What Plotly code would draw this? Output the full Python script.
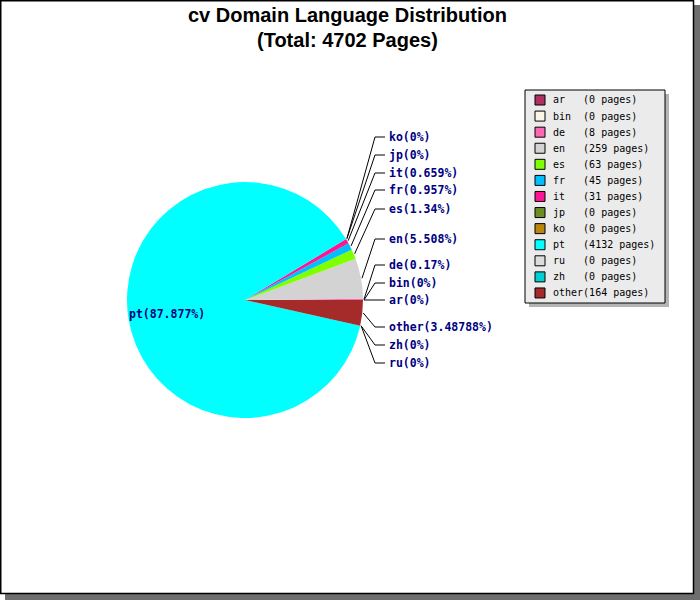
import math
import plotly.graph_objects as go

# ---------------- data ----------------
labels = ["ar", "bin", "de", "en", "es", "fr", "it", "jp", "ko", "pt", "ru", "zh", "other"]
pages = [0, 0, 8, 259, 63, 45, 31, 0, 0, 4132, 0, 0, 164]
pct_text = ["0", "0", "0.17", "5.508", "1.34", "0.957", "0.659", "0", "0",
            "87.877", "0", "0", "3.48788"]
colors = ["#B03060", "#FDF5E6", "#FF69B4", "#D3D3D3", "#7FFF00", "#00BFFF", "#FF1493",
          "#6B8E23", "#B8860B", "#00FFFF", "#DCDCDC", "#00CED1", "#A52A2A"]
domain_name = "cv"

# ---------------- layout (pixels) ----------------
W, H = 700, 600
cx, cy, R = 245, 300, 118
label_x = 387
elbow_x = 375
tick_end_x = 385
# vertical label slots (pt label is placed inside the pie)
label_y = [300, 283, 265, 239, 209, 190, 173, 155, 137, None, 363, 345, 327]
inside_label = (127, 314)


def px(x):
    return x / W


def py(y):
    return 1 - y / H


total = sum(pages)

fig = go.Figure()
fig.add_trace(go.Pie(
    labels=labels, values=pages, sort=False, direction="counterclockwise",
    rotation=90, textinfo="none", hoverinfo="label+value+percent",
    marker=dict(colors=colors, line=dict(width=0)),
    domain=dict(x=[px(cx - R), px(cx + R)], y=[py(cy + R), py(cy - R)]),
    showlegend=False,
))

shapes = []
annotations = []

# outer frame with shadow
shapes.append(dict(type="rect", xref="paper", yref="paper", x0=px(5), x1=px(700),
                   y0=py(600), y1=py(5), fillcolor="#6E6E6E", line=dict(width=0), layer="below"))
shapes.append(dict(type="rect", xref="paper", yref="paper", x0=px(0.75), x1=px(693.5),
                   y0=py(593.5), y1=py(0.75), fillcolor="white",
                   line=dict(color="black", width=1.5), layer="below"))

# title
title_font = dict(family="Liberation Sans, Arial", size=20, color="black")
annotations.append(dict(text=f"<b>{domain_name} Domain Language Distribution</b>", x=px(347), y=py(15),
                        xref="paper", yref="paper", showarrow=False, xanchor="center", yanchor="middle",
                        font=title_font))
annotations.append(dict(text=f"<b>(Total: {total} Pages)</b>", x=px(347), y=py(40),
                        xref="paper", yref="paper", showarrow=False, xanchor="center", yanchor="middle",
                        font=title_font))

# slice labels with guide lines
label_font = dict(family="DejaVu Sans Mono", size=11.5, color="#000080")
cum = 0.0
for i, (lab, v) in enumerate(zip(labels, pages)):
    frac = v / total
    mid = (cum + frac / 2) * 2 * math.pi
    cum += frac
    txt = f"<b>{lab}({pct_text[i]}%)</b>"
    if label_y[i] is None:
        annotations.append(dict(text=txt, x=px(inside_label[0]), y=py(inside_label[1]),
                                xref="paper", yref="paper", showarrow=False, xanchor="left",
                                yanchor="middle", font=label_font))
        continue
    sx = cx + (R + 1) * math.cos(mid)
    sy = cy - (R + 1) * math.sin(mid)
    ly = label_y[i]
    path = (f"M {px(sx)} {py(sy)} L {px(elbow_x)} {py(ly)} L {px(tick_end_x)} {py(ly)}")
    shapes.append(dict(type="path", xref="paper", yref="paper", path=path,
                       line=dict(color="black", width=1)))
    annotations.append(dict(text=txt, x=px(label_x), y=py(ly), xref="paper", yref="paper",
                            showarrow=False, xanchor="left", yanchor="middle", font=label_font))

# legend box with shadow
lx0, lx1, ly0, ly1 = 525, 665, 90, 303
shapes.append(dict(type="rect", xref="paper", yref="paper", x0=px(lx0 + 4), x1=px(lx1 + 4),
                   y0=py(ly1 + 4), y1=py(ly0 + 4), fillcolor="#B4B4B4", line=dict(width=0)))
shapes.append(dict(type="rect", xref="paper", yref="paper", x0=px(lx0), x1=px(lx1),
                   y0=py(ly1), y1=py(ly0), fillcolor="#EBEBEB",
                   line=dict(color="black", width=1)))
row0, step = 100, 16.08
for i, (lab, v) in enumerate(zip(labels, pages)):
    ry = row0 + i * step
    shapes.append(dict(type="rect", xref="paper", yref="paper", x0=px(535), x1=px(545),
                       y0=py(ry + 5), y1=py(ry - 5), fillcolor=colors[i],
                       line=dict(color="black", width=1)))
    s = f"{lab:<5}({v} pages)".replace(" ", "\u00a0")
    annotations.append(dict(text=s, x=px(551), y=py(ry), xref="paper", yref="paper",
                            showarrow=False, xanchor="left", yanchor="middle",
                            font=dict(family="DejaVu Sans Mono", size=10, color="black")))

fig.update_layout(
    width=W, height=H, margin=dict(l=0, r=0, t=0, b=0),
    paper_bgcolor="white", plot_bgcolor="white",
    shapes=shapes, annotations=annotations, showlegend=False,
)
fig.write_html("out.html", config={"displayModeBar": False},
               post_script="document.body.style.margin='0';")
